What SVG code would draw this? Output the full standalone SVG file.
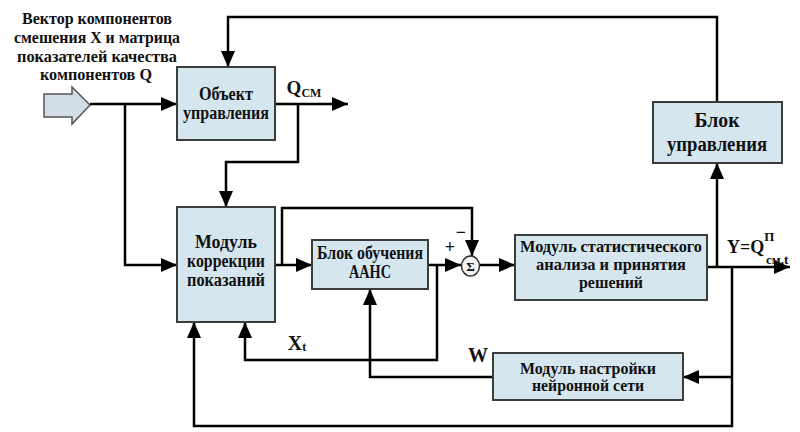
<svg xmlns="http://www.w3.org/2000/svg" width="800" height="432" viewBox="0 0 800 432">
<style>
.box{fill:#d5e6ef;stroke:#3c3c3c;stroke-width:2}
.ln{fill:none;stroke:#000;stroke-width:2.5}
.t{font-family:"Liberation Serif","DejaVu Serif","Times New Roman",serif;font-weight:bold;fill:#111;text-anchor:middle}
.s16{font-size:16px}
.s17{font-size:17px}
.s18{font-size:18px}
.s19{font-size:19px}
.s20{font-size:20px}
</style>
<defs>
<marker id="ah" markerUnits="userSpaceOnUse" markerWidth="16" markerHeight="14" viewBox="0 0 16 14" refX="16" refY="7" orient="auto">
<path d="M0,0 L16,7 L0,14 Z" fill="#000"/>
</marker>
</defs>
<rect width="800" height="432" fill="#fff"/>

<g id="input-label">
<text class="t s17" x="97" y="24" textLength="150" lengthAdjust="spacingAndGlyphs">Вектор компонентов</text>
<text class="t s17" x="97" y="43" textLength="166" lengthAdjust="spacingAndGlyphs">смешения X и матрица</text>
<text class="t s17" x="97" y="62" textLength="160" lengthAdjust="spacingAndGlyphs">показателей качества</text>
<text class="t s17" x="96" y="80" textLength="112" lengthAdjust="spacingAndGlyphs">компонентов Q</text>
</g>
<g id="input-arrow">
<path d="M44,94 H72 V87 L90,105 L72,124 V117 H44 Z" fill="#d3dde8" stroke="#555" stroke-width="1.5"/>
</g>

<g id="connectors">
<path class="ln" d="M717,102 V17 H228 V67" marker-end="url(#ah)"/>
<path class="ln" d="M90,104 H177" marker-end="url(#ah)"/>
<path class="ln" d="M125,104 V265 H177" marker-end="url(#ah)"/>
<path class="ln" d="M275,104 H348" marker-end="url(#ah)"/>
<path class="ln" d="M298,104 V162 H226 V207" marker-end="url(#ah)"/>
<path class="ln" d="M275,265 H312" marker-end="url(#ah)"/>
<path class="ln" d="M282,265 V208 H472 V256" marker-end="url(#ah)"/>
<path class="ln" d="M428,265 H461" marker-end="url(#ah)"/>
<path class="ln" d="M437,265 V360 H245 V322" marker-end="url(#ah)"/>
<path class="ln" d="M480,265 H515" marker-end="url(#ah)"/>
<path class="ln" d="M707,267 H790" marker-end="url(#ah)"/>
<path class="ln" d="M717,267 V163" marker-end="url(#ah)"/>
<path class="ln" d="M732,267 V426 H194 V322" marker-end="url(#ah)"/>
<path class="ln" d="M732,377 H683" marker-end="url(#ah)"/>
<path class="ln" d="M493,377 H370 V289" marker-end="url(#ah)"/>
</g>

<g id="object">
<rect class="box" x="177" y="67" width="98" height="73"/>
<text class="t s18" x="226" y="100" textLength="54" lengthAdjust="spacingAndGlyphs">Объект</text>
<text class="t s18" x="226" y="119" textLength="86" lengthAdjust="spacingAndGlyphs">управления</text>
</g>

<g id="control">
<rect class="box" x="653" y="102" width="129" height="61"/>
<text class="t s20" x="717" y="127" textLength="45" lengthAdjust="spacingAndGlyphs">Блок</text>
<text class="t s20" x="717" y="151" textLength="100" lengthAdjust="spacingAndGlyphs">управления</text>
</g>

<g id="correction">
<rect class="box" x="177" y="207" width="98" height="115"/>
<text class="t s18" x="226" y="248" textLength="62" lengthAdjust="spacingAndGlyphs">Модуль</text>
<text class="t s18" x="226" y="267" textLength="78" lengthAdjust="spacingAndGlyphs">коррекции</text>
<text class="t s18" x="226" y="286" textLength="78" lengthAdjust="spacingAndGlyphs">показаний</text>
</g>

<g id="training">
<rect class="box" x="312" y="240" width="116" height="49"/>
<text class="t s18" x="370" y="259" textLength="106" lengthAdjust="spacingAndGlyphs">Блок обучения</text>
<text class="t s18" x="370" y="278" textLength="42" lengthAdjust="spacingAndGlyphs">ААНС</text>
</g>

<g id="sum">
<ellipse cx="470.5" cy="266" rx="9" ry="10" fill="#f4f4f4" stroke="#333" stroke-width="1.5"/>
<text class="t" x="470.5" y="271" font-size="13">Σ</text>
<text class="t" x="450" y="253" font-size="18" font-weight="normal">+</text>
<text class="t" x="461" y="238" font-size="18" font-weight="normal">−</text>
</g>

<g id="stats">
<rect class="box" x="515" y="235" width="192" height="65"/>
<text class="t s17" x="611" y="252" textLength="182" lengthAdjust="spacingAndGlyphs">Модуль статистического</text>
<text class="t s17" x="611" y="270" textLength="150" lengthAdjust="spacingAndGlyphs">анализа и принятия</text>
<text class="t s17" x="611" y="288" textLength="64" lengthAdjust="spacingAndGlyphs">решений</text>
</g>

<g id="tuning">
<rect class="box" x="493" y="353" width="190" height="47"/>
<text class="t s16" x="588" y="374" textLength="136" lengthAdjust="spacingAndGlyphs">Модуль настройки</text>
<text class="t s16" x="588" y="391" textLength="112" lengthAdjust="spacingAndGlyphs">нейронной сети</text>
</g>

<g id="labels">
<text class="t" font-size="19" x="304" y="94">Q<tspan font-size="13" dy="3" textLength="20" lengthAdjust="spacingAndGlyphs">CM</tspan></text>
<text class="t" font-size="18" x="727" y="253" style="text-anchor:start">Y=Q<tspan font-size="13" dy="-12">П</tspan><tspan font-size="13" x="766" dy="23">см,t</tspan></text>
<text class="t" font-size="20" x="297" y="350">X<tspan font-size="12" dy="1">t</tspan></text>
<text class="t" font-size="20" x="478" y="362">W</text>
</g>
</svg>
